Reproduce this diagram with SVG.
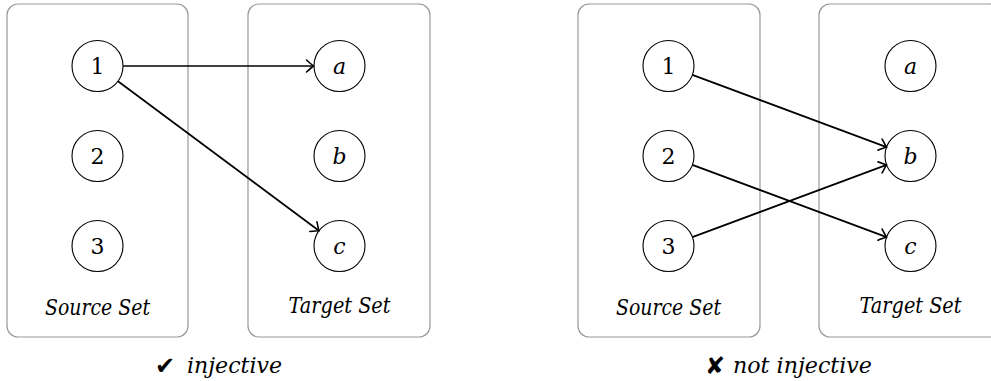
<svg xmlns="http://www.w3.org/2000/svg" width="991" height="381" viewBox="0 0 991 381">
<style>
.box{fill:#fff;stroke:#999;stroke-width:1.2}
.node{fill:#fff;stroke:#000;stroke-width:1.1}
.edge{fill:none;stroke:#000;stroke-width:1.7}
</style>
<defs>
<marker id="arr" markerUnits="userSpaceOnUse" markerWidth="20" markerHeight="20" viewBox="-10 -10 20 20" refX="0" refY="0" orient="auto">
<path d="M-7,-6 Q-2,-1.5 0,0 Q-2,1.5 -7,6" fill="none" stroke="#000" stroke-width="1.6" stroke-linecap="round"/>
</marker>
</defs>
<g id="left-panel" font-family="DejaVu Serif, Liberation Serif, serif" font-size="22" text-anchor="middle" fill="#000">
<g id="L-source"><rect class="box" x="7" y="4" width="181" height="333" rx="11"/><text font-style="italic" x="97.5" y="315" textLength="105" lengthAdjust="spacingAndGlyphs">Source Set</text></g>
<g id="L-target"><rect class="box" x="248" y="4" width="182" height="333" rx="11"/><text font-style="italic" x="339.5" y="313" textLength="102" lengthAdjust="spacingAndGlyphs">Target Set</text></g>
<g id="L-n1"><circle class="node" cx="97.5" cy="66" r="25.5"/><text x="97.5" y="74">1</text></g>
<g id="L-n2"><circle class="node" cx="97.5" cy="156" r="25.5"/><text x="97.5" y="164">2</text></g>
<g id="L-n3"><circle class="node" cx="97.5" cy="246" r="25.5"/><text x="97.5" y="254">3</text></g>
<g id="L-a"><circle class="node" cx="339.5" cy="66" r="25.5"/><text font-style="italic" x="339.5" y="74">a</text></g>
<g id="L-b"><circle class="node" cx="339.5" cy="156" r="25.5"/><text font-style="italic" x="339.5" y="164">b</text></g>
<g id="L-c"><circle class="node" cx="339.5" cy="246" r="25.5"/><text font-style="italic" x="339.5" y="254">c</text></g>
<g id="L-caption"><text font-family="DejaVu Sans, sans-serif" font-size="24" text-anchor="start" x="155" y="374">✔</text><text font-style="italic" x="234.5" y="373" textLength="95" lengthAdjust="spacingAndGlyphs">injective</text></g>
</g>
<g id="right-panel" font-family="DejaVu Serif, Liberation Serif, serif" font-size="22" text-anchor="middle" fill="#000">
<g id="R-source"><rect class="box" x="578" y="4" width="182" height="333" rx="11"/><text font-style="italic" x="668.5" y="315" textLength="105" lengthAdjust="spacingAndGlyphs">Source Set</text></g>
<g id="R-target"><rect class="box" x="819" y="4" width="182" height="333" rx="11"/><text font-style="italic" x="910.5" y="313" textLength="102" lengthAdjust="spacingAndGlyphs">Target Set</text></g>
<g id="R-n1"><circle class="node" cx="668.5" cy="66" r="25.5"/><text x="668.5" y="74">1</text></g>
<g id="R-n2"><circle class="node" cx="668.5" cy="156" r="25.5"/><text x="668.5" y="164">2</text></g>
<g id="R-n3"><circle class="node" cx="668.5" cy="246" r="25.5"/><text x="668.5" y="254">3</text></g>
<g id="R-a"><circle class="node" cx="910.5" cy="66" r="25.5"/><text font-style="italic" x="910.5" y="74">a</text></g>
<g id="R-b"><circle class="node" cx="910.5" cy="156" r="25.5"/><text font-style="italic" x="910.5" y="164">b</text></g>
<g id="R-c"><circle class="node" cx="910.5" cy="246" r="25.5"/><text font-style="italic" x="910.5" y="254">c</text></g>
<g id="R-caption"><text font-family="DejaVu Sans, sans-serif" font-size="24" text-anchor="start" x="705" y="374">✘</text><text font-style="italic" x="802.5" y="373" textLength="139" lengthAdjust="spacingAndGlyphs">not injective</text></g>
</g>
<g id="connectors">
<line class="edge" x1="123" y1="66" x2="313.5" y2="66" marker-end="url(#arr)"/>
<line class="edge" x1="118" y1="81.2" x2="319" y2="230.8" marker-end="url(#arr)"/>
<line class="edge" x1="692.4" y1="74.9" x2="886.6" y2="147.1" marker-end="url(#arr)"/>
<line class="edge" x1="692.4" y1="164.9" x2="886.6" y2="237.1" marker-end="url(#arr)"/>
<line class="edge" x1="692.4" y1="237.1" x2="886.6" y2="164.9" marker-end="url(#arr)"/>
</g>
</svg>
